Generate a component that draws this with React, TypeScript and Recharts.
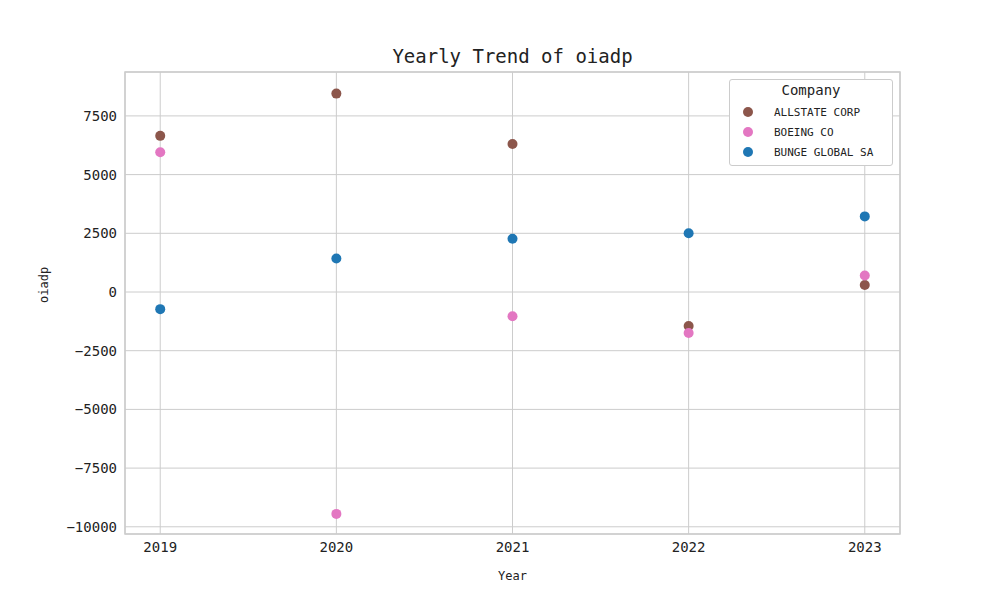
import { ScatterChart, Scatter, XAxis, YAxis, CartesianGrid, ReferenceArea } from "recharts";

const years = [2019, 2020, 2021, 2022, 2023];
const allstate = [6650, 8450, 6300, -1450, 300];
const boeing = [5950, -9450, -1030, -1750, 700];
const bunge = [-730, 1430, 2270, 2500, 3220];
const yTicks = [-10000, -7500, -5000, -2500, 0, 2500, 5000, 7500];

const series = [
  { name: "ALLSTATE CORP", color: "#8c564b", values: allstate },
  { name: "BOEING CO", color: "#e377c2", values: boeing },
  { name: "BUNGE GLOBAL SA", color: "#1f77b4", values: bunge },
];

const font = "'DejaVu Sans Mono', monospace";

export default function App() {
  return (
    <div style={{ position: "absolute", left: 0, top: 0, width: 1000, height: 600, background: "#fff", fontFamily: font }}>
      <div style={{ position: "absolute", top: 45, width: 1025, textAlign: "center", fontSize: 19, color: "#222" }}>
        Yearly Trend of oiadp
      </div>
      <ScatterChart width={1000} height={600} margin={{ top: 72, left: 0, right: 100, bottom: 20 }}>
        <CartesianGrid stroke="#cccccc" />
        <XAxis
          type="number"
          dataKey="x"
          domain={[2018.8, 2023.2]}
          ticks={years}
          tickLine={false}
          axisLine={false}
          height={46}
          tick={{ fill: "#222", fontSize: 14, fontFamily: font }}
          label={{ value: "Year", position: "insideBottom", offset: 0, fill: "#222", fontSize: 12, fontFamily: font }}
        />
        <YAxis
          type="number"
          dataKey="y"
          domain={[-10307, 9370]}
          ticks={yTicks}
          width={125}
          tickLine={false}
          axisLine={false}
          tickFormatter={(v: number) => String(v).replace("-", "\u2212")}
          tick={{ fill: "#222", fontSize: 14, fontFamily: font }}
          label={{ value: "oiadp", angle: -90, position: "insideLeft", offset: 44, fill: "#222", fontSize: 12, fontFamily: font }}
        />
        <ReferenceArea x1={2018.8} x2={2023.2} y1={-10307} y2={9370} fill="none" stroke="#cccccc" strokeWidth={1.5} ifOverflow="extendDomain" />
        {series.map((s) => (
          <Scatter
            key={s.name}
            name={s.name}
            data={years.map((yr, i) => ({ x: yr, y: s.values[i] }))}
            fill={s.color}
            shape={(p: any) => <circle cx={p.cx} cy={p.cy} r={5} fill={s.color} />}
            isAnimationActive={false}
          />
        ))}
      </ScatterChart>
      <div style={{ position: "absolute", left: 729, top: 79, width: 162, height: 85, border: "1px solid #ccc", borderRadius: 3, background: "#fff", fontSize: 11, color: "#222" }}>
        <div style={{ textAlign: "center", fontSize: 14, marginTop: 2, marginBottom: 4 }}>Company</div>
        {series.map((s) => (
          <div key={s.name} style={{ display: "flex", alignItems: "center", height: 20, marginLeft: 13 }}>
            <span style={{ width: 10, height: 10, borderRadius: 5, background: s.color, marginRight: 21 }} />
            {s.name}
          </div>
        ))}
      </div>
    </div>
  );
}
